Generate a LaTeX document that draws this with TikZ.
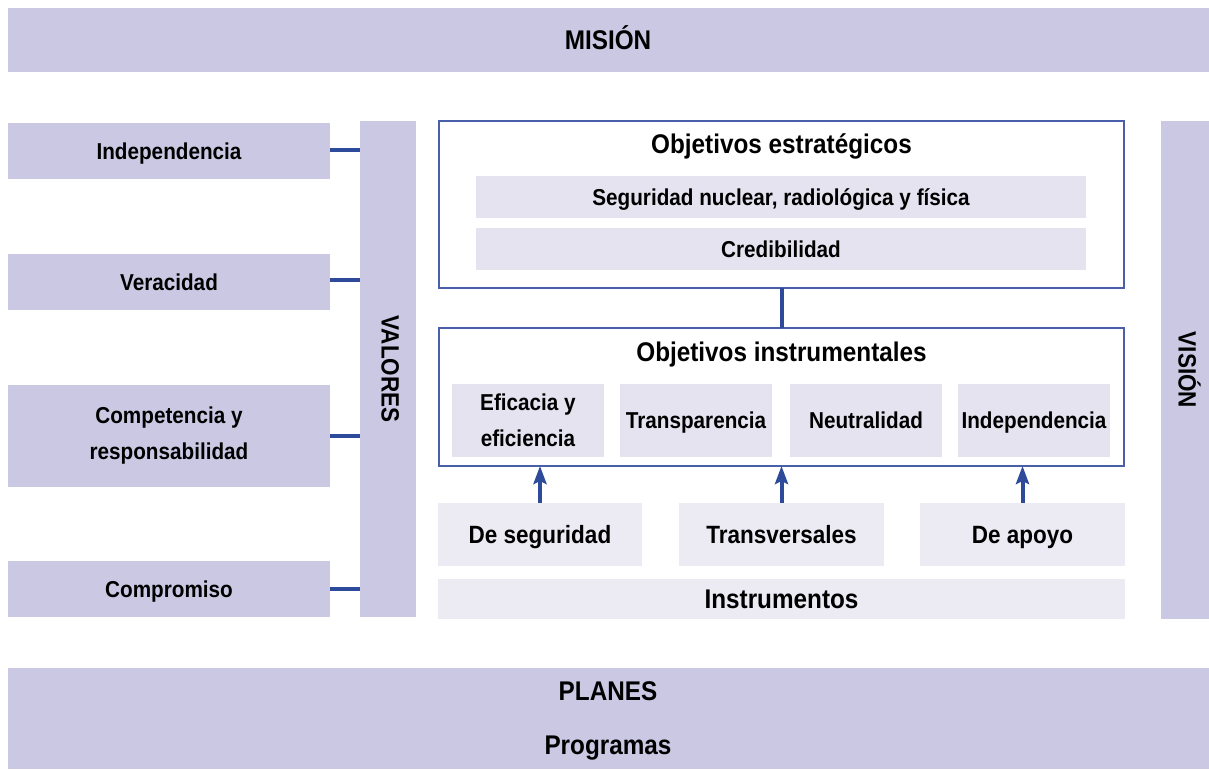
\documentclass[tikz,border=0pt]{standalone}
\usepackage{fontspec}
\setmainfont[FakeStretch=0.9]{Liberation Sans}
\usetikzlibrary{arrows.meta}
\definecolor{lav}{HTML}{CBC8E4}
\definecolor{pale}{HTML}{E5E3EF}
\definecolor{paler}{HTML}{ECEBF4}
\definecolor{navy}{HTML}{2E4A9A}
\definecolor{frameblue}{HTML}{4A5FAA}
\tikzset{
  box/.style={inner sep=0pt, outer sep=0pt, align=center, font=\bfseries\fontsize{23}{36}\selectfont, text=black},
  oneline/.style={text height=18.5pt, text depth=2.5pt},
  lavbox/.style={box, fill=lav},
  palebox/.style={box, fill=pale},
  palerbox/.style={box, fill=paler},
  framebox/.style={draw=frameblue, line width=1.4pt, fill=white, inner sep=0pt, outer sep=0pt},
  link/.style={draw=navy, line width=4pt},
  uparrow/.style={draw=navy, line width=4pt, -{Stealth[length=18pt,width=13pt,inset=3pt]}},
  big/.style={box, font=\bfseries\fontsize{27}{30}\selectfont, text height=21.5pt, text depth=3.5pt},
  mid/.style={box, font=\bfseries\fontsize{25}{30}\selectfont, text height=20pt, text depth=3pt},
  vert/.style={box, font=\bfseries\fontsize{25}{30}\selectfont, text height=18pt, text depth=5pt}
}
\begin{document}
\begin{tikzpicture}[x=1pt,y=-1pt]
\useasboundingbox (0,0) rectangle (1209,769);
% Mision
\node[lavbox, big, minimum width=1201, minimum height=64] (mision) at (608,40) {MISIÓN};
% Valores
\node[lavbox, oneline, minimum width=322, minimum height=56] (v1) at (169,151) {Independencia};
\node[lavbox, oneline, minimum width=322, minimum height=56] (v2) at (169,282) {Veracidad};
\node[lavbox, minimum width=322, minimum height=102] (v3) at (169,436) {Competencia y\\responsabilidad};
\node[lavbox, oneline, minimum width=322, minimum height=56] (v4) at (169,589) {Compromiso};
\node[lavbox, minimum width=56, minimum height=496] (valores) at (388,369) {};
\node[vert, rotate=-90] (valt) at (valores.center) {VALORES};
\draw[link] (v1.east |- 0,150) -- (valores.west |- 0,150);
\draw[link] (v2.east |- 0,280) -- (valores.west |- 0,280);
\draw[link] (v3.east |- 0,436) -- (valores.west |- 0,436);
\draw[link] (v4.east |- 0,589) -- (valores.west |- 0,589);
% Objetivos estrategicos
\node[framebox, minimum width=685, minimum height=167] (oe) at (781.5,204.5) {};
\node[big] (oet) at (781.5,144) {Objetivos estratégicos};
\node[palebox, oneline, minimum width=610, minimum height=42] (seg) at (781,197) {Seguridad nuclear, radiológica y física};
\node[palebox, oneline, minimum width=610, minimum height=42] (cred) at (781,249) {Credibilidad};
% Objetivos instrumentales
\node[framebox, minimum width=685, minimum height=138] (oi) at (781.5,397) {};
\node[big] (oit) at (781.5,352) {Objetivos instrumentales};
\node[palebox, minimum width=152, minimum height=73] (i1) at (528,420.5) {Eficacia y\\eficiencia};
\node[palebox, oneline, minimum width=152, minimum height=73] (i2) at (696,420.5) {Transparencia};
\node[palebox, oneline, minimum width=152, minimum height=73] (i3) at (866,420.5) {Neutralidad};
\node[palebox, oneline, minimum width=152, minimum height=73] (i4) at (1034,420.5) {Independencia};
\draw[link] (oe.south) -- (oi.north);
% Instrumentos
\node[palerbox, mid, minimum width=204, minimum height=63] (d1) at (540,534.5) {De seguridad};
\node[palerbox, mid, minimum width=205, minimum height=63] (d2) at (781.5,534.5) {Transversales};
\node[palerbox, mid, minimum width=205, minimum height=63] (d3) at (1022.5,534.5) {De apoyo};
\node[palerbox, big, minimum width=687, minimum height=40] (instr) at (781.5,599) {Instrumentos};
\draw[uparrow] (d1.north) -- (d1.north |- oi.south);
\draw[uparrow] (d2.north) -- (d2.north |- oi.south);
\draw[uparrow] (d3.north) -- (d3.north |- oi.south);
% Vision
\node[lavbox, minimum width=48, minimum height=498] (vision) at (1185,370) {};
\node[vert, rotate=-90] (vist) at (vision.center) {VISIÓN};
% Planes
\node[lavbox, minimum width=1201, minimum height=101] (planes) at (608,718.5) {};
\node[big] (pl) at (608,691) {PLANES};
\node[big] (prog) at (608,745) {Programas};
\end{tikzpicture}
\end{document}
